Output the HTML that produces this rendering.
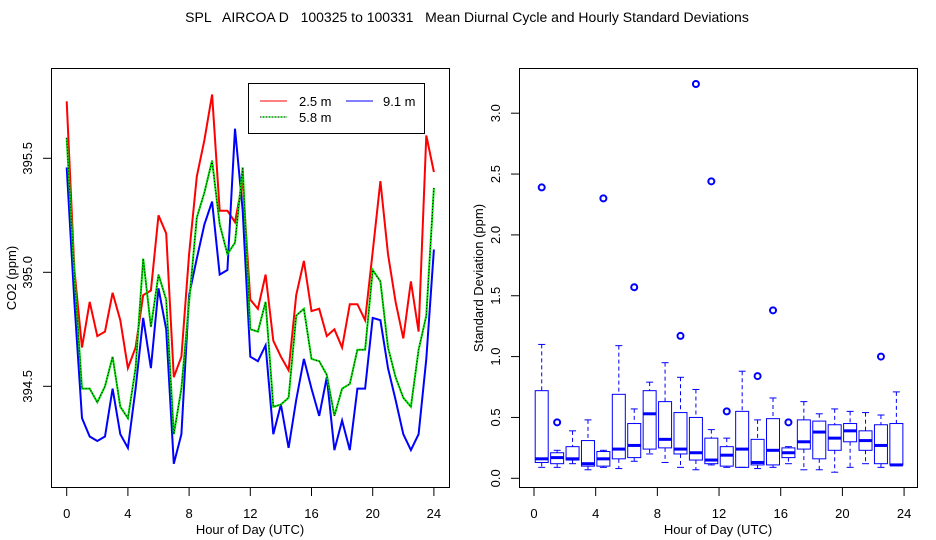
<!DOCTYPE html>
<html><head><meta charset="utf-8"><style>
html,body{margin:0;padding:0;background:#fff;}
svg{display:block;font-family:"Liberation Sans",Arial,sans-serif;}
</style></head><body>
<svg id="chart" width="936" height="540" viewBox="0 0 936 540" xmlns="http://www.w3.org/2000/svg">
<rect width="936" height="540" fill="#fff"/>
<text x="467" y="22" font-size="14" text-anchor="middle" xml:space="preserve">SPL   AIRCOA D   100325 to 100331   Mean Diurnal Cycle and Hourly Standard Deviations</text>
<g id="left"></g>
<g id="right"></g>
</svg>
<script>
// ---- left chart data ----
const hours = [0,0.5,1,1.5,2,2.5,3,3.5,4,4.5,5,5.5,6,6.5,7,7.5,8,8.5,9,9.5,10,10.5,11,11.5,12,12.5,13,13.5,14,14.5,15,15.5,16,16.5,17,17.5,18,18.5,19,19.5,20,20.5,21,21.5,22,22.5,23,23.5,24];
const co2At2_5 = [395.75,395.01,394.67,394.87,394.72,394.74,394.91,394.79,394.58,394.67,394.90,394.92,395.25,395.17,394.54,394.63,395.08,395.42,395.58,395.78,395.27,395.27,395.22,395.40,394.88,394.84,394.99,394.70,394.63,394.57,394.90,395.05,394.83,394.84,394.72,394.75,394.67,394.86,394.86,394.79,395.09,395.40,395.08,394.87,394.71,394.96,394.74,395.60,395.44];
const co2At5_8 = [395.59,394.99,394.49,394.49,394.43,394.50,394.63,394.41,394.36,394.58,395.06,394.76,394.99,394.88,394.29,394.49,394.87,395.24,395.35,395.49,395.21,395.08,395.13,395.46,394.75,394.74,394.87,394.41,394.42,394.45,394.81,394.84,394.62,394.61,394.55,394.37,394.49,394.51,394.66,394.66,395.01,394.96,394.67,394.54,394.45,394.41,394.66,394.81,395.37];
const co2At9_1 = [395.46,394.87,394.36,394.28,394.26,394.28,394.49,394.29,394.23,394.49,394.80,394.58,394.93,394.75,394.16,394.29,394.90,395.06,395.21,395.31,394.99,395.01,395.63,395.27,394.63,394.61,394.68,394.29,394.42,394.23,394.44,394.62,394.49,394.37,394.54,394.22,394.35,394.22,394.49,394.49,394.80,394.79,394.58,394.44,394.29,394.22,394.29,394.62,395.10];
const leftXTicks = [0,4,8,12,16,20,24];
const leftYTicks = ["394.5","395.0","395.5"];
// ---- right chart data ----
const boxHours = [0.5,1.5,2.5,3.5,4.5,5.5,6.5,7.5,8.5,9.5,10.5,11.5,12.5,13.5,14.5,15.5,16.5,17.5,18.5,19.5,20.5,21.5,22.5,23.5];
const whiskerLow = [0.09,0.09,0.12,0.07,0.09,0.08,0.14,0.20,0.13,0.09,0.07,0.11,0.09,0.09,0.08,0.09,0.12,0.07,0.07,0.05,0.09,0.12,0.09,0.11];
const q1 = [0.13,0.12,0.15,0.10,0.10,0.16,0.17,0.24,0.25,0.20,0.15,0.12,0.10,0.09,0.11,0.11,0.17,0.24,0.16,0.23,0.30,0.23,0.12,0.11];
const medians = [0.16,0.17,0.16,0.12,0.16,0.24,0.27,0.53,0.32,0.24,0.21,0.15,0.19,0.24,0.13,0.23,0.21,0.30,0.38,0.33,0.39,0.31,0.27,0.11];
const q3 = [0.72,0.21,0.26,0.31,0.22,0.69,0.45,0.72,0.63,0.54,0.50,0.33,0.26,0.55,0.32,0.49,0.25,0.48,0.47,0.44,0.45,0.39,0.44,0.45];
const whiskerHigh = [1.10,0.23,0.39,0.48,0.23,1.09,0.57,0.79,0.95,0.83,0.73,0.40,0.33,0.88,0.48,0.66,0.26,0.63,0.53,0.57,0.55,0.54,0.52,0.71];
const outlierHours = [0.5,1.5,4.5,6.5,9.5,10.5,11.5,12.5,14.5,15.5,16.5,22.5];
const outlierValues = [2.39,0.46,2.30,1.57,1.17,3.24,2.44,0.55,0.84,1.38,0.46,1.00];
const rightYTicks = ["0.0","0.5","1.0","1.5","2.0","2.5","3.0"];

const NS="http://www.w3.org/2000/svg";
function mk(parent,tag,attrs){const e=document.createElementNS(NS,tag);for(const k in attrs)e.setAttribute(k,attrs[k]);parent.appendChild(e);return e;}

// axis functions
const lx = h => 66.7 + 15.3*h;
const ly = v => 272.3 - (v-395.0)*228;
const rx = h => 534 + 15.42*h;
const ry = v => 478.3 - v*121.7;

// ===== LEFT PANEL =====
const L=document.getElementById('left');
let frame=mk(L,'rect',{x:51.5,y:68.5,width:398,height:419,fill:'none',stroke:'#000','stroke-width':1});


leftXTicks.forEach(t=>{
  let ln=mk(L,'line',{x1:lx(t),x2:lx(t),y1:488,y2:496,stroke:'#000'});
  
  
  let tx=mk(L,'text',{x:lx(t),y:518,'font-size':13,'text-anchor':'middle'});
  tx.textContent=t;
  
  
});
leftYTicks.forEach(t=>{
  const y=ly(parseFloat(t));
  let ln=mk(L,'line',{x1:43,x2:51,y1:y,y2:y,stroke:'#000'});
  
  
  let tx=mk(L,'text',{x:32,y:y,'font-size':13,'text-anchor':'middle',transform:`rotate(-90 32 ${y})`});
  tx.textContent=t;
  
  
});
let xt=mk(L,'text',{x:250,y:534,'font-size':13,'text-anchor':'middle'});
xt.textContent='Hour of Day (UTC)';


let yt=mk(L,'text',{x:16,y:278,'font-size':13,'text-anchor':'middle',transform:'rotate(-90 16 278)'});
yt.textContent='CO2 (ppm)';



function pts(arr){return arr.map((v,i)=>lx(hours[i]).toFixed(1)+','+ly(v).toFixed(1)).join(' ');}
let pr=mk(L,'polyline',{points:pts(co2At2_5),fill:'none',stroke:'#ff0000','stroke-width':2});


let pb=mk(L,'polyline',{points:pts(co2At9_1),fill:'none',stroke:'#0000ff','stroke-width':2});


let pg=mk(L,'polyline',{points:pts(co2At5_8),fill:'none',stroke:'#00dd00','stroke-width':2});


let pgd=mk(L,'polyline',{points:pts(co2At5_8),fill:'none',stroke:'#000','stroke-width':1,'stroke-dasharray':'1,2'});



// legend
const lg=mk(L,'g',{});


mk(lg,'rect',{x:248.5,y:83.5,width:176,height:50,fill:'#fff',stroke:'#000'});
let e1=mk(lg,'g',{});


mk(e1,'line',{x1:260,x2:287,y1:101,y2:101,stroke:'#ff0000','stroke-width':1});
mk(e1,'text',{x:299,y:106,'font-size':13}).textContent='2.5 m';
let e2=mk(lg,'g',{});


mk(e2,'line',{x1:346,x2:373,y1:101,y2:101,stroke:'#0000ff','stroke-width':1});
mk(e2,'text',{x:383,y:106,'font-size':13}).textContent='9.1 m';
let e3=mk(lg,'g',{});


mk(e3,'line',{x1:260,x2:287,y1:117,y2:117,stroke:'#00dd00','stroke-width':1});
mk(e3,'line',{x1:260,x2:287,y1:117,y2:117,stroke:'#000','stroke-width':1,'stroke-dasharray':'1,2'});
mk(e3,'text',{x:299,y:122,'font-size':13}).textContent='5.8 m';

// ===== RIGHT PANEL =====
const R=document.getElementById('right');
let rf=mk(R,'rect',{x:519.5,y:68.5,width:398,height:419,fill:'none',stroke:'#000'});


leftXTicks.forEach(t=>{
  let ln=mk(R,'line',{x1:rx(t),x2:rx(t),y1:488,y2:496,stroke:'#000'});
  
  
  let tx=mk(R,'text',{x:rx(t),y:518,'font-size':13,'text-anchor':'middle'});
  tx.textContent=t;
  
  
});
rightYTicks.forEach(t=>{
  const y=ry(parseFloat(t));
  let ln=mk(R,'line',{x1:511,x2:519,y1:y,y2:y,stroke:'#000'});
  
  
  let tx=mk(R,'text',{x:500,y:y,'font-size':13,'text-anchor':'middle',transform:`rotate(-90 500 ${y})`});
  tx.textContent=t;
  
  
});
let rxt=mk(R,'text',{x:718,y:534,'font-size':13,'text-anchor':'middle'});
rxt.textContent='Hour of Day (UTC)';


let ryt=mk(R,'text',{x:483,y:278,'font-size':13,'text-anchor':'middle',transform:'rotate(-90 483 278)'});
ryt.textContent='Standard Deviation (ppm)';



const BL='#0000ff';
boxHours.forEach((h,i)=>{
  const cx=rx(h), hw=6.5;
  const g=mk(R,'g',{});
  
  
  mk(g,'line',{x1:cx,x2:cx,y1:ry(whiskerHigh[i]),y2:ry(q3[i]),stroke:BL,'stroke-dasharray':'4,3'});
  mk(g,'line',{x1:cx,x2:cx,y1:ry(q1[i]),y2:ry(whiskerLow[i]),stroke:BL,'stroke-dasharray':'4,3'});
  mk(g,'line',{x1:cx-3.5,x2:cx+3.5,y1:ry(whiskerHigh[i]),y2:ry(whiskerHigh[i]),stroke:BL});
  mk(g,'line',{x1:cx-3.5,x2:cx+3.5,y1:ry(whiskerLow[i]),y2:ry(whiskerLow[i]),stroke:BL});
  mk(g,'rect',{x:cx-hw,y:ry(q3[i]),width:2*hw,height:Math.max(0.5,ry(q1[i])-ry(q3[i])),fill:'none',stroke:BL});
  mk(g,'line',{x1:cx-hw,x2:cx+hw,y1:ry(medians[i]),y2:ry(medians[i]),stroke:BL,'stroke-width':3});
});
outlierHours.forEach((h,i)=>{
  let c=mk(R,'circle',{cx:rx(h),cy:ry(outlierValues[i]),r:3,fill:'none',stroke:BL,'stroke-width':2});
  
  
});
</script>
</body></html>
